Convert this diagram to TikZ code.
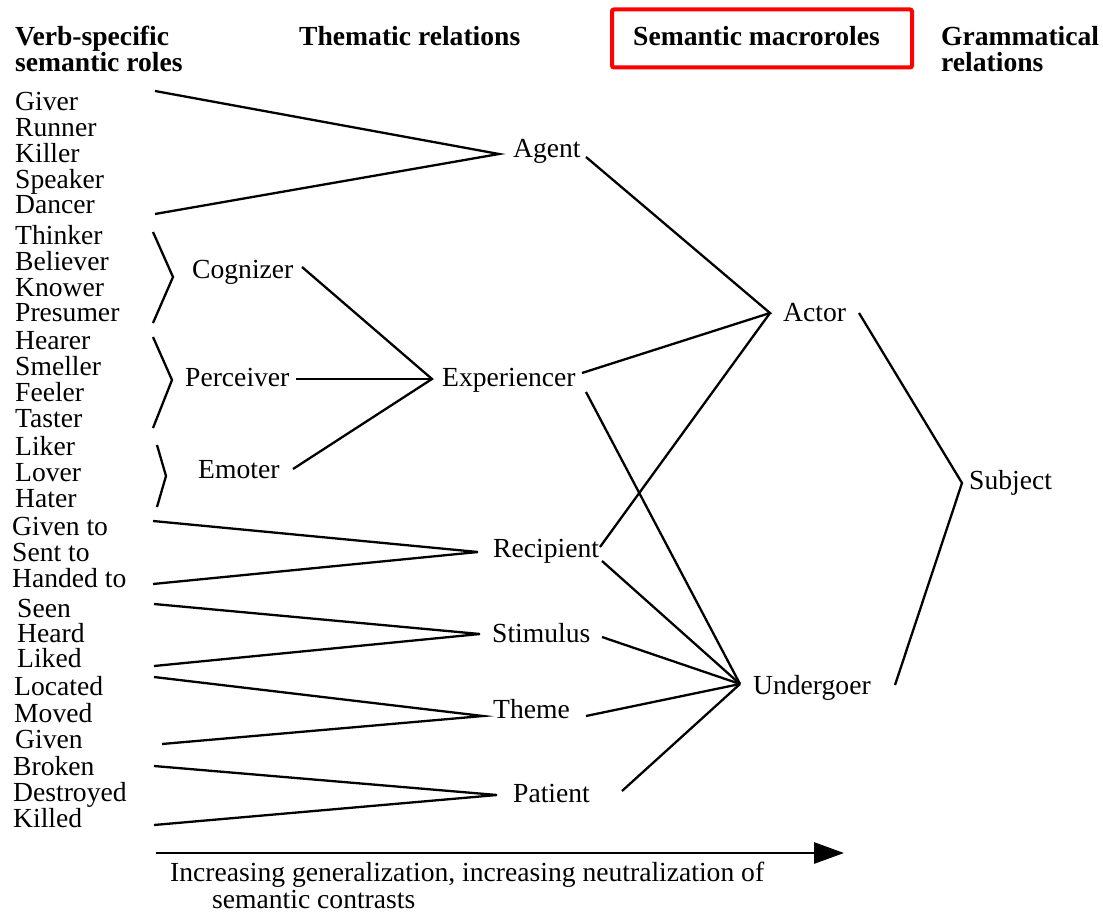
\documentclass[tikz,border=0pt]{standalone}
\usepackage{fontspec}
\setmainfont{Liberation Serif}
\usetikzlibrary{arrows.meta}
\begin{document}
\begin{tikzpicture}[x=1pt,y=-1pt,
  lbl/.style={anchor=base west, inner sep=0pt, font=\fontsize{27.6}{26}\selectfont},
  hdr/.style={anchor=base west, inner sep=0pt, font=\fontsize{27.6}{26}\selectfont\bfseries},
  ln/.style={line width=2.3pt, line join=miter},
]
\useasboundingbox (0,0) rectangle (1103,912);

% headers
\node[hdr] (h1a) at (15,46) {Verb-specific};
\node[hdr] (h1b) at (15,72) {semantic roles};
\node[hdr] (h2) at (299,46) {Thematic relations};
\node[draw=red, line width=4pt, rounded corners=2pt, minimum width=300pt, minimum height=58pt, inner sep=0pt] (box) at (762,38.5) {};
\node[hdr] (h3) at (633,46) {Semantic macroroles};
\node[hdr] (h4a) at (941,46) {Grammatical};
\node[hdr] (h4b) at (941,72) {relations};

% verb-specific lists
\node[lbl] (v1) at (15,111) {Giver};
\node[lbl] (v2) at (15,137) {Runner};
\node[lbl] (v3) at (15,163) {Killer};
\node[lbl] (v4) at (15,189) {Speaker};
\node[lbl] (v5) at (15,214) {Dancer};
\node[lbl] (v6) at (15,244) {Thinker};
\node[lbl] (v7) at (15,270) {Believer};
\node[lbl] (v8) at (15,296) {Knower};
\node[lbl] (v9) at (15,321) {Presumer};
\node[lbl] (v10) at (15,349) {Hearer};
\node[lbl] (v11) at (15,375) {Smeller};
\node[lbl] (v12) at (15,401) {Feeler};
\node[lbl] (v13) at (15,427) {Taster};
\node[lbl] (v14) at (15,455) {Liker};
\node[lbl] (v15) at (15,481) {Lover};
\node[lbl] (v16) at (15,507) {Hater};
\node[lbl] (v17) at (12,535) {Given to};
\node[lbl] (v18) at (12,561) {Sent to};
\node[lbl] (v19) at (12,587) {Handed to};
\node[lbl] (v20) at (17,617) {Seen};
\node[lbl] (v21) at (17,642) {Heard};
\node[lbl] (v22) at (17,667) {Liked};
\node[lbl] (v23) at (14,695) {Located};
\node[lbl] (v24) at (14,722) {Moved};
\node[lbl] (v25) at (15,748) {Given};
\node[lbl] (v26) at (13,775) {Broken};
\node[lbl] (v27) at (13,801) {Destroyed};
\node[lbl] (v28) at (13,827) {Killed};

% intermediate roles
\node[lbl] (cog) at (192,278) {Cognizer};
\node[lbl] (per) at (185,386) {Perceiver};
\node[lbl] (emo) at (198,478) {Emoter};

% thematic relations
\node[lbl] (agent) at (513,158) {Agent};
\node[lbl] (exp) at (442,386) {Experiencer};
\node[lbl] (rec) at (493,557) {Recipient};
\node[lbl] (sti) at (492,642) {Stimulus};
\node[lbl] (the) at (493,718) {Theme};
\node[lbl] (pat) at (513,802) {Patient};

% macroroles
\node[lbl] (actor) at (783,321) {Actor};
\node[lbl] (und) at (753,694) {Undergoer};

% grammatical relation
\node[lbl] (subj) at (969,489) {Subject};

% connector points
\coordinate (agT) at (155,91);
\coordinate (agB) at (155,214);
\coordinate (agC) at (499,154);

\coordinate (cgT) at (153,232);
\coordinate (cgC) at (173,277);
\coordinate (cgB) at (153,323);
\coordinate (pcT) at (153,337);
\coordinate (pcC) at (172,380);
\coordinate (pcB) at (153,428);
\coordinate (emT) at (157,445);
\coordinate (emC) at (166,476);
\coordinate (emB) at (157,507);

\coordinate (cogR) at (302,267);
\coordinate (perR) at (296,379);
\coordinate (emoR) at (293,469);
\coordinate (expC) at (432,379);

\coordinate (rcT) at (153,521);
\coordinate (rcB) at (153,584);
\coordinate (rcC) at (478,552);
\coordinate (stT) at (154,604);
\coordinate (stB) at (154,666);
\coordinate (stC) at (480,634);
\coordinate (thT) at (154,677);
\coordinate (thB) at (162,744);
\coordinate (thC) at (483,716);
\coordinate (paT) at (154,766);
\coordinate (paB) at (154,825);
\coordinate (paC) at (497,795);

\coordinate (agR) at (586,157);
\coordinate (expRu) at (582,373);
\coordinate (expRd) at (586,392);
\coordinate (recRu) at (600,547);
\coordinate (recRd) at (602,561);
\coordinate (stiR) at (602,637);
\coordinate (theR) at (586,716);
\coordinate (patR) at (622,791);
\coordinate (actC) at (770,313);
\coordinate (undC) at (740,684);

\coordinate (actR) at (859,313);
\coordinate (undR) at (895,685);
\coordinate (subC) at (962,483);

\coordinate (arrL) at (156,853);
\coordinate (arrR) at (844,853);

% connectors
\draw[ln] (agT) -- (agC) -- (agB);
\draw[ln] (cgT) -- (cgC) -- (cgB);
\draw[ln] (pcT) -- (pcC) -- (pcB);
\draw[ln] (emT) -- (emC) -- (emB);
\draw[ln] (cogR) -- (expC) -- (emoR);
\draw[ln] (perR) -- (expC);
\draw[ln] (rcT) -- (rcC) -- (rcB);
\draw[ln] (stT) -- (stC) -- (stB);
\draw[ln] (thT) -- (thC) -- (thB);
\draw[ln] (paT) -- (paC) -- (paB);

\draw[ln] (agR) -- (actC) -- (expRu);
\draw[ln] (actC) -- (recRu);
\draw[ln] (expRd) -- (undC);
\draw[ln] (recRd) -- (undC);
\draw[ln] (stiR) -- (undC);
\draw[ln] (theR) -- (undC);
\draw[ln] (patR) -- (undC);

\draw[ln] (actR) -- (subC) -- (undR);

\draw[line width=2.8pt, -{Triangle[length=30pt,width=21pt]}] (arrL) -- (arrR);

\node[lbl, text depth=0pt] (cap1) at (170,881) {Increasing generalization, increasing neutralization of};
\node[lbl, text height=15pt] (cap2) at (212,908) {semantic contrasts};
\end{tikzpicture}
\end{document}
